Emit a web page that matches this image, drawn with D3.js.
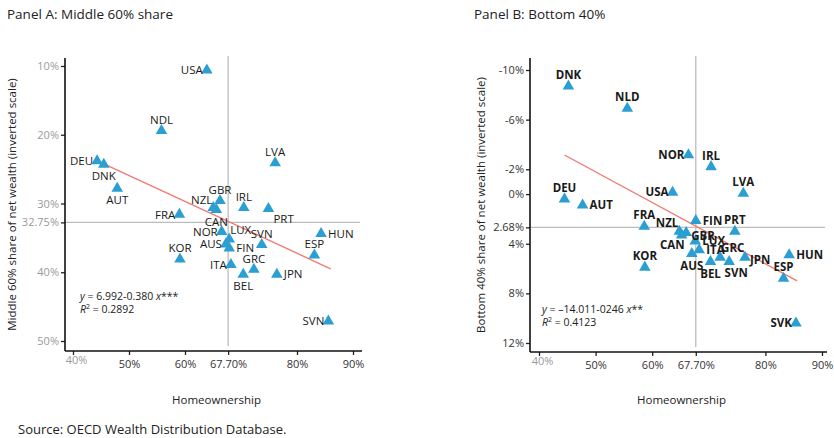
<!DOCTYPE html>
<html>
<head>
<meta charset="utf-8">
<script src="https://cdn.jsdelivr.net/npm/d3@7"></script>
<style>
  body { margin: 0; background: #fff; }
  svg { font-family: "Open Sans", "Noto Sans", sans-serif; }
</style>
</head>
<body>
<svg width="834" height="438"></svg>
<script>
// panel A: middle 60% share vs homeownership
var countriesA = ["USA","NDL","DEU","DNK","AUT","LVA","GBR","NZL","CAN","IRL","PRT","FRA","NOR","LUX","AUS","FIN","SVN","HUN","ESP","KOR","ITA","GRC","BEL","JPN","SVN"];
var ownA   = [63.9, 55.8, 44.3, 45.5, 47.9, 76.1, 66.25, 65.05, 65.6, 70.5, 74.9, 59.0, 66.55, 67.9, 67.3, 67.9, 73.7, 84.3, 83.1, 59.1, 68.2, 72.3, 70.4, 76.4, 85.6];
var shareA = [10.6, 19.4, 23.8, 24.3, 27.8, 24.1, 29.6, 30.6, 30.9, 30.6, 30.75, 31.6, 34.1, 35.2, 35.9, 36.5, 36.0, 34.4, 37.5, 38.1, 38.9, 39.6, 40.3, 40.3, 47.1];
var labelPosA = ["l","t","l","b","b","t","t","tl","b","t","br","l","l","tr","l","r","t","r","t","t","l","t","b","r","l"];
var fitXA = [45.7, 86.0];
var fitYA = [24.3, 39.5];
var meanXA = 67.7, meanYA = 32.75;
var yTicksA = [10, 20, 30, 32.75, 40, 50];
var yTickLabelsA = ["10%","20%","30%","32.75%","40%","50%"];

// panel B: bottom 40% share vs homeownership
var countriesB = ["DNK","NLD","NOR","IRL","LVA","USA","DEU","AUT","FRA","FIN","PRT","NZL","GBR","CAN","LUX","ITA","AUS","GRC","BEL","SVN","JPN","HUN","ESP","KOR","SVK"];
var ownB   = [45.2, 55.6, 66.4, 70.4, 76.1, 63.6, 44.5, 47.7, 58.6, 67.7, 74.6, 64.8, 66.0, 65.2, 67.6, 68.3, 67.0, 72.0, 70.3, 73.6, 76.4, 84.2, 83.2, 58.7, 85.4];
var shareB = [-8.7, -6.9, -3.15, -2.2, -0.05, -0.14, 0.4, 0.9, 2.6, 2.15, 3.0, 3.0, 3.1, 3.3, 3.8, 4.5, 4.8, 5.1, 5.45, 5.45, 5.1, 4.9, 6.8, 5.9, 10.4];
var labelPosB = ["t","t","l","t","t","l","t","r","t","r","t","tl","rd","bl","r","r","b","tr","b","bs","rd","r","t","t","l"];
var fitXB = [44.5, 85.6];
var fitYB = [-3.15, 7.0];
var meanXB = 67.7, meanYB = 2.68;
var yTicksB = [-10, -6, -2, 0, 2.68, 4, 8, 12];
var yTickLabelsB = ["-10%","-6%","-2%","0%","2.68%","4%","8%","12%"];

var xTicks = [40, 50, 60, 67.7, 80, 90];
var xTickLabels = ["40%","50%","60%","67.70%","80%","90%"];

var svg = d3.select("svg");
var blue = "#2b9fd1", red = "#f27a72", grey = "#bdbdbd";

svg.append("text").attr("x", 7).attr("y", 19).attr("font-size", 13.5).attr("fill", "#222")
  .text("Panel A: Middle 60% share");
svg.append("text").attr("x", 474).attr("y", 19).attr("font-size", 13.5).attr("fill", "#222")
  .text("Panel B: Bottom 40%");
svg.append("text").attr("x", 18).attr("y", 434).attr("font-size", 13).attr("fill", "#222")
  .text("Source: OECD Wealth Distribution Database.");

var offsets = {
  l:  {dx: -4, dy: 4, a: "end"},
  r:  {dx: 7, dy: 4, a: "start"},
  rd: {dx: 5, dy: 7, a: "start"},
  t:  {dx: 0, dy: -7, a: "middle"},
  b:  {dx: 0, dy: 16, a: "middle"},
  bs: {dx: 7, dy: 15, a: "middle"},
  tl: {dx: -1, dy: -4, a: "end"},
  tr: {dx: 1, dy: -5, a: "start"},
  br: {dx: 5, dy: 14, a: "start"},
  bl: {dx: 3, dy: 14, a: "end"}
};

function panel(cfg) {
  var g = svg.append("g");
  var x = d3.scaleLinear().domain([40, 90]).range(cfg.xRange);
  var y = d3.scaleLinear().domain(cfg.yDomain).range(cfg.yRange);

  // mean lines
  g.append("line").attr("x1", x(cfg.meanX)).attr("x2", x(cfg.meanX))
    .attr("y1", cfg.top - 2).attr("y2", cfg.bottom - 5)
    .attr("stroke", grey).attr("stroke-width", 1.3);
  g.append("line").attr("x1", cfg.left).attr("x2", cfg.right - 2)
    .attr("y1", y(cfg.meanY)).attr("y2", y(cfg.meanY))
    .attr("stroke", grey).attr("stroke-width", 1.3);

  // axes
  var yAxis = d3.axisLeft(y).tickValues(cfg.yTicks).tickSize(4)
    .tickFormat(function(d, i) { return cfg.yTickLabels[i]; });
  var ya = g.append("g").attr("transform", "translate(" + cfg.left + ",0)").call(yAxis);
  ya.select(".domain").remove();
  ya.selectAll("text").attr("font-size", 11).attr("font-family", "Open Sans")
    .attr("fill", cfg.yTickColor).attr("x", -6);
  ya.selectAll(".tick line").attr("stroke", "#222").attr("stroke-width", 1.3);

  var xAxis = d3.axisBottom(x).tickValues(xTicks).tickSize(4)
    .tickFormat(function(d, i) { return xTickLabels[i]; });
  var xa = g.append("g").attr("transform", "translate(0," + cfg.bottom + ")").call(xAxis);
  xa.select(".domain").remove();
  xa.selectAll("text").attr("font-size", 11).attr("font-family", "Open Sans")
    .attr("fill", function(d) { return d === 40 ? "#9a9a9a" : "#333"; })
    .attr("dy", function(d) { return d === 40 ? "0.5em" : "0.9em"; })
    .attr("dx", function(d) { return d === 40 ? 3 : 0; });
  xa.selectAll(".tick line").attr("stroke", "#222").attr("stroke-width", 1.3);

  g.append("line").attr("x1", cfg.left).attr("x2", cfg.left)
    .attr("y1", cfg.top).attr("y2", cfg.bottom).attr("stroke", "#111").attr("stroke-width", 1.6);
  g.append("line").attr("x1", cfg.left).attr("x2", cfg.right)
    .attr("y1", cfg.bottom).attr("y2", cfg.bottom).attr("stroke", "#111").attr("stroke-width", 1.6);

  // fit line
  g.append("line")
    .attr("x1", x(cfg.fitX[0])).attr("y1", y(cfg.fitY[0]))
    .attr("x2", x(cfg.fitX[1])).attr("y2", y(cfg.fitY[1]))
    .attr("stroke", red).attr("stroke-width", 1.4);

  var pts = cfg.names.map(function(n, i) {
    return {name: n, x: cfg.xs[i], y: cfg.ys[i], pos: cfg.pos[i]};
  });

  g.selectAll(".pt").data(pts).enter().append("path")
    .attr("class", "pt")
    .attr("d", d3.symbol().type(d3.symbolTriangle).size(58))
    .attr("transform", function(d) { return "translate(" + x(d.x) + "," + y(d.y) + ")"; })
    .attr("fill", blue);

  g.selectAll(".lbl").data(pts).enter().append("text")
    .attr("class", "lbl")
    .attr("x", function(d) { return x(d.x) + offsets[d.pos].dx; })
    .attr("y", function(d) { return y(d.y) + offsets[d.pos].dy; })
    .attr("text-anchor", function(d) { return offsets[d.pos].a; })
    .attr("font-size", 11.5)
    .attr("font-weight", cfg.bold ? "bold" : "normal")
    .attr("fill", "#1a1a1a")
    .text(function(d) { return d.name; });

  // equation
  var eq = g.append("text").attr("x", cfg.eqX).attr("y", cfg.eqY).attr("font-size", 10.5).attr("fill", "#222");
  eq.append("tspan").attr("font-style", "italic").text("y");
  eq.append("tspan").text(" = " + cfg.eqText + " ");
  eq.append("tspan").attr("font-style", "italic").text("x");
  eq.append("tspan").text(cfg.stars);
  var r2 = g.append("text").attr("x", cfg.eqX).attr("y", cfg.eqY + 13).attr("font-size", 10.5).attr("fill", "#222");
  r2.append("tspan").attr("font-style", "italic").text("R");
  r2.append("tspan").attr("font-size", 7).attr("dy", -4).text("2");
  r2.append("tspan").attr("dy", 4).text(" = " + cfg.r2);

  // axis titles
  svg.append("text")
    .attr("transform", "translate(" + cfg.yTitleX + "," + ((cfg.top + cfg.bottom) / 2) + ") rotate(-90)")
    .attr("text-anchor", "middle").attr("font-size", 11.5).attr("fill", "#222")
    .text(cfg.yTitle);
  svg.append("text").attr("x", (cfg.left + cfg.right) / 2 + 3).attr("y", 404)
    .attr("text-anchor", "middle").attr("font-size", 11.5).attr("fill", "#222")
    .text("Homeownership");
}

panel({
  names: countriesA, xs: ownA, ys: shareA, pos: labelPosA,
  xRange: [73, 353], yDomain: [10, 50], yRange: [66, 341],
  left: 65, right: 362, top: 58, bottom: 351,
  meanX: meanXA, meanY: meanYA, fitX: fitXA, fitY: fitYA,
  yTicks: yTicksA, yTickLabels: yTickLabelsA, yTickColor: "#9a9a9a",
  bold: false, eqX: 80, eqY: 300, eqText: "6.992-0.380", stars: "***", r2: "0.2892",
  yTitleX: 16, yTitle: "Middle 60% share of net wealth (inverted scale)"
});

panel({
  names: countriesB, xs: ownB, ys: shareB, pos: labelPosB,
  xRange: [539, 822], yDomain: [-10, 12], yRange: [70, 343],
  left: 530, right: 827, top: 58, bottom: 352,
  meanX: meanXB, meanY: meanYB, fitX: fitXB, fitY: fitYB,
  yTicks: yTicksB, yTickLabels: yTickLabelsB, yTickColor: "#333",
  bold: true, eqX: 542, eqY: 313, eqText: "\u201314.011-0246", stars: "**", r2: "0.4123",
  yTitleX: 485, yTitle: "Bottom 40% share of net wealth (inverted scale)"
});
</script>
</body>
</html>
